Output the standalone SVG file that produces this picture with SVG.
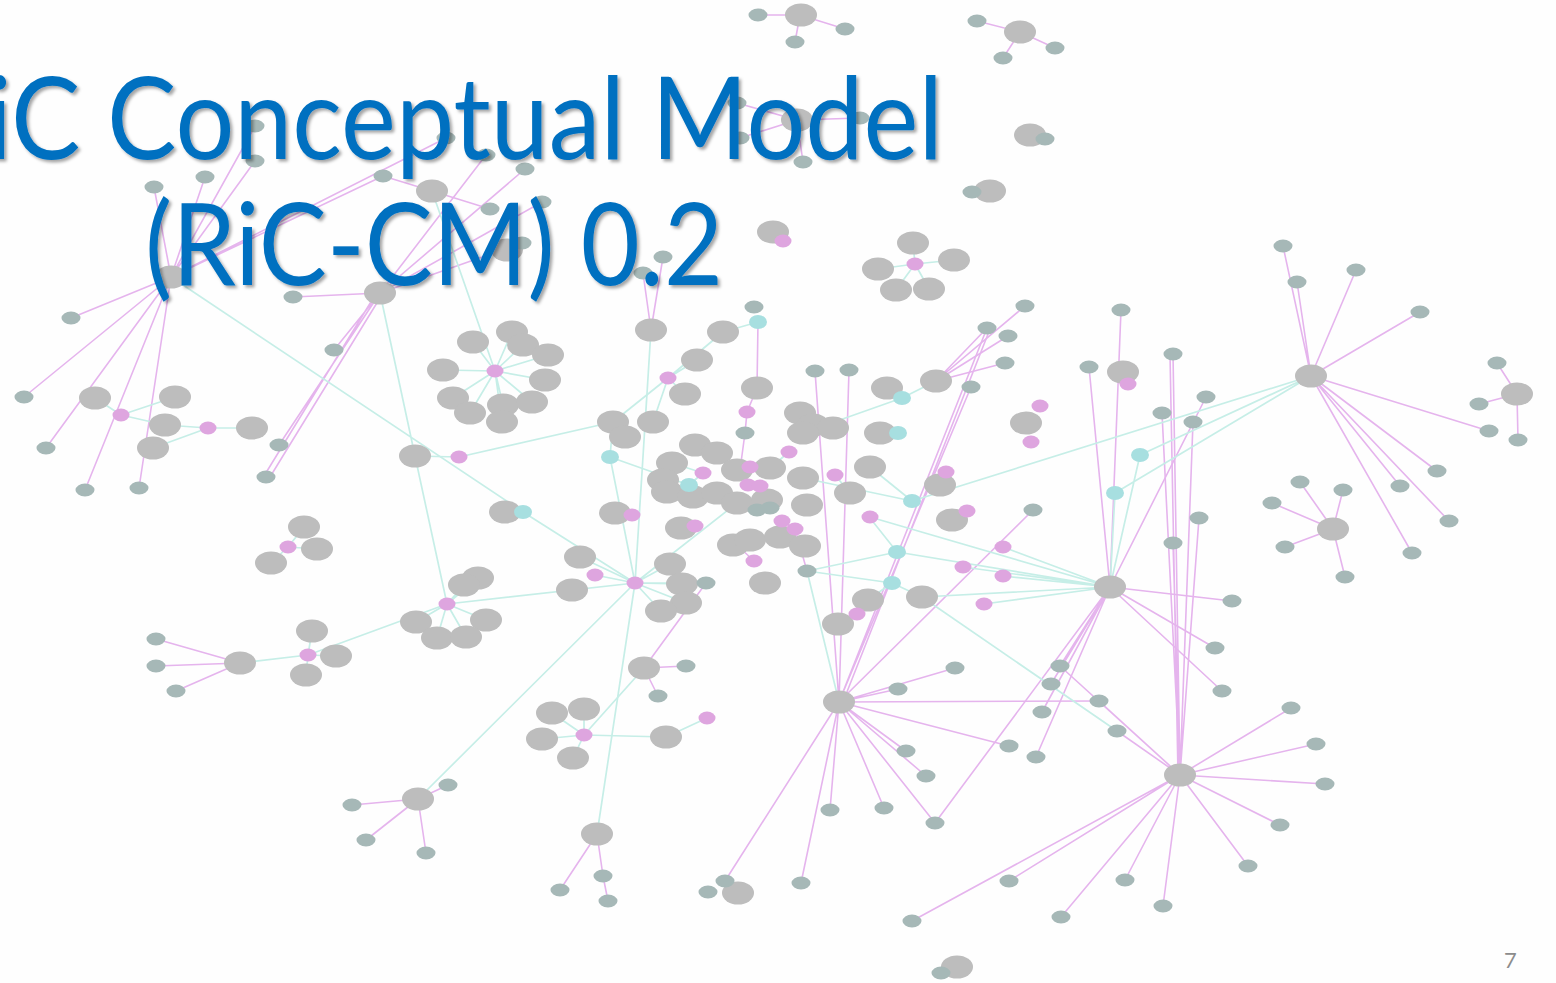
<svg xmlns="http://www.w3.org/2000/svg" xmlns:xlink="http://www.w3.org/1999/xlink" width="1556" height="983" viewBox="0 0 1556 983">
<style>
.pe{stroke:#e5b4ed;stroke-width:1.6;fill:none}
.ce{stroke:#c6eee7;stroke-width:1.7;fill:none}
.title{font-family:Lato,"Open Sans","Liberation Sans",sans-serif;font-size:114px;fill:#0070c0}
.pg{font-family:Lato,"Liberation Sans",sans-serif;font-size:22px;fill:#8c8c8c}
</style>
<defs>
<ellipse id="B" rx="16" ry="11.5" fill="#bdbdbd"/>
<ellipse id="S" rx="9.5" ry="6.5" fill="#a6b8b7"/>
<ellipse id="P" rx="8.5" ry="6.5" fill="#dea5df"/>
<ellipse id="C" rx="9" ry="7" fill="#a7dfe0"/>
<filter id="shadow" x="-5%" y="-20%" width="110%" height="140%">
<feDropShadow dx="2.5" dy="2.5" stdDeviation="1.5" flood-color="#000" flood-opacity="0.35"/>
</filter>
</defs>
<rect width="1556" height="983" fill="#fefefe"/>

<!-- connectors -->
<g id="edges">
<g class="pe">
<path d="M800 15L758 15M800 15L845 29M800 15L795 42"/>
<path d="M1020 32L977 21M1020 32L1055 48M1020 32L1003 58"/>
<path d="M797 120L737 103M797 120L740 138M797 120L860 118M797 120L803 162"/>
<path d="M171 277L154 187M171 277L205 177M171 277L255 126M171 277L255 161M171 277L71 318M171 277L24 397M171 277L46 448M171 277L85 490M171 277L139 488M171 277L383 176M171 277L446 138"/>
<path d="M380 293L293 297M380 293L334 350M380 293L279 445M383 293L270 477M377 292L264 476M380 293L486 155M380 293L525 169M380 293L542 202M380 293L522 243"/>
<path d="M432 191L490 209M432 191L383 176"/>
<path d="M651 330L643 273M651 330L663 257M758 322L757 388M757 388L747 412M747 412L745 433M745 433L740 470"/>
<path d="M936 381L1025 306M936 381L1008 336M936 381L1005 363M936 381L987 328"/>
<path d="M839 702L815 371M839 702L849 370M839 702L987 328M843 702L990 329M839 702L971 387M839 702L1033 510M839 702L955 668M839 702L898 689M839 702L1099 701M839 702L1009 746M839 702L906 751M839 702L926 776M839 702L830 810M839 702L884 808M839 702L935 823M839 702L801 883M839 702L725 881"/>
<path d="M1110 587L1121 310M1110 587L1089 367M1110 587L1206 397M1110 587L1232 601M1110 587L1215 648M1110 587L1222 691M1110 587L1060 666M1110 587L1051 684M1110 587L1042 712M1110 587L1036 757M1110 587L935 823"/>
<path d="M1180 775L1173 354M1178 775L1170 354M1180 775L1162 413M1180 775L1173 543M1180 775L1199 518M1180 775L1193 422M1180 775L1291 708M1180 775L1316 744M1180 775L1325 784M1180 775L1280 825M1180 775L1248 866M1180 775L1163 906M1180 775L1125 880M1180 775L1061 917M1180 775L1009 881M1180 775L912 921M1180 775L1117 731M1180 775L1099 701M1180 775L1060 666"/>
<path d="M1311 376L1283 246M1311 376L1297 282M1311 376L1356 270M1311 376L1420 312M1311 376L1489 431M1311 376L1437 471M1311 376L1400 486M1311 376L1449 521M1311 376L1412 553"/>
<path d="M1517 394L1497 363M1517 394L1479 404M1517 394L1518 440"/>
<path d="M1333 529L1300 482M1333 529L1343 490M1333 529L1272 503M1333 529L1285 547M1333 529L1345 577"/>
<path d="M240 663L156 639M240 663L156 666M240 663L176 691"/>
<path d="M418 799L448 785M418 799L352 805M418 799L366 840M418 799L426 853"/>
<path d="M597 834L603 876M597 834L560 890M603 876L608 901"/>
<path d="M644 668L686 666M644 668L658 696M644 668L706 583"/>
<path d="M782 521L795 529M795 529L807 571M754 561L737 545"/>
</g>
<g class="ce">
<path d="M171 277L523 512M523 512L635 583M380 293L415 456M415 456L447 604M432 191L495 371"/>
<path d="M495 371L473 342M495 371L512 332M495 371L523 345M495 371L548 355M495 371L443 370M495 371L545 380M495 371L453 398M495 371L470 413M495 371L503 405M495 371L532 402M495 371L502 422"/>
<path d="M121 415L95 398M121 415L165 425M121 415L175 397M208 428L165 425M208 428L252 428M208 428L153 448"/>
<path d="M459 457L415 456M459 457L613 422"/>
<path d="M668 378L697 360M668 378L685 394M668 378L613 422M668 378L653 422M668 378L723 332M758 322L723 332"/>
<path d="M651 330L635 583"/>
<path d="M635 583L580 557M635 583L595 575M635 583L670 564M635 583L682 584M635 583L706 583M635 583L686 603M635 583L661 611M635 583L572 590M635 583L447 604M635 583L418 799M635 583L597 834M635 583L737 503M635 583L610 457M610 457L613 422M610 457L689 485"/>
<path d="M584 735L552 713M584 735L584 709M584 735L542 739M584 735L573 758M584 735L666 737M584 735L644 668M666 737L707 718"/>
<path d="M288 547L304 527M288 547L317 549M288 547L271 563"/>
<path d="M308 655L312 631M308 655L336 656M308 655L306 675M308 655L240 663M308 655L447 604"/>
<path d="M447 604L478 578M447 604L464 585M447 604L416 622M447 604L486 620M447 604L437 638M447 604L466 637"/>
<path d="M1311 376L1140 455M1311 376L1115 493M1311 376L912 501M1115 493L1110 587M1140 455L1110 587"/>
<path d="M1110 587L1003 547M1110 587L1003 576M1110 587L963 567M1110 587L897 552M1110 587L870 517M1110 587L984 604M1110 587L922 597"/>
<path d="M912 501L870 467M912 501L803 478M902 398L936 381M902 398L887 388M902 398L803 433M898 433L880 433"/>
<path d="M892 583L868 600M892 583L922 597M892 583L807 571M897 552L870 518M897 552L807 571M839 702L807 571M857 614L869 600M922 597L1117 731"/>
<path d="M737 503L757 510M737 503L770 508M789 452L770 468M835 475L850 493M703 473L689 485M703 473L672 463"/>
<path d="M915 264L913 243M915 264L954 260M915 264L878 269M915 264L896 290M915 264L929 289"/>
</g>
</g>

<!-- nodes -->
<g id="nodes">
<g id="n1"><use href="#B" x="801" y="15"/></g>
<g id="n2"><use href="#B" x="1020" y="32"/></g>
<g id="n3"><use href="#B" x="797" y="120"/></g>
<g id="n4"><use href="#B" x="1030" y="135"/></g>
<g id="n5"><use href="#B" x="990" y="191"/></g>
<g id="n6"><use href="#B" x="773" y="232"/></g>
<g id="n7"><use href="#B" x="913" y="243"/></g>
<g id="n8"><use href="#B" x="954" y="260"/></g>
<g id="n9"><use href="#B" x="878" y="269"/></g>
<g id="n10"><use href="#B" x="896" y="290"/></g>
<g id="n11"><use href="#B" x="929" y="289"/></g>
<g id="n12"><use href="#B" x="171" y="277"/></g>
<g id="n13"><use href="#B" x="380" y="293"/></g>
<g id="n14"><use href="#B" x="432" y="191"/></g>
<g id="n15"><use href="#B" x="507" y="250"/></g>
<g id="n16"><use href="#B" x="95" y="398"/></g>
<g id="n17"><use href="#B" x="175" y="397"/></g>
<g id="n18"><use href="#B" x="165" y="425"/></g>
<g id="n19"><use href="#B" x="252" y="428"/></g>
<g id="n20"><use href="#B" x="153" y="448"/></g>
<g id="n21"><use href="#B" x="473" y="342"/></g>
<g id="n22"><use href="#B" x="512" y="332"/></g>
<g id="n23"><use href="#B" x="523" y="345"/></g>
<g id="n24"><use href="#B" x="548" y="355"/></g>
<g id="n25"><use href="#B" x="443" y="370"/></g>
<g id="n26"><use href="#B" x="545" y="380"/></g>
<g id="n27"><use href="#B" x="453" y="398"/></g>
<g id="n28"><use href="#B" x="470" y="413"/></g>
<g id="n29"><use href="#B" x="503" y="405"/></g>
<g id="n30"><use href="#B" x="532" y="402"/></g>
<g id="n31"><use href="#B" x="502" y="422"/></g>
<g id="n32"><use href="#B" x="415" y="456"/></g>
<g id="n33"><use href="#B" x="651" y="330"/></g>
<g id="n34"><use href="#B" x="723" y="332"/></g>
<g id="n35"><use href="#B" x="697" y="360"/></g>
<g id="n36"><use href="#B" x="685" y="394"/></g>
<g id="n37"><use href="#B" x="757" y="388"/></g>
<g id="n38"><use href="#B" x="613" y="422"/></g>
<g id="n39"><use href="#B" x="625" y="437"/></g>
<g id="n40"><use href="#B" x="653" y="422"/></g>
<g id="n41"><use href="#B" x="695" y="445"/></g>
<g id="n42"><use href="#B" x="717" y="453"/></g>
<g id="n43"><use href="#B" x="887" y="388"/></g>
<g id="n44"><use href="#B" x="936" y="381"/></g>
<g id="n45"><use href="#B" x="880" y="433"/></g>
<g id="n46"><use href="#B" x="800" y="413"/></g>
<g id="n47"><use href="#B" x="813" y="425"/></g>
<g id="n48"><use href="#B" x="833" y="428"/></g>
<g id="n49"><use href="#B" x="803" y="433"/></g>
<g id="n50"><use href="#B" x="672" y="463"/></g>
<g id="n51"><use href="#B" x="663" y="480"/></g>
<g id="n52"><use href="#B" x="667" y="492"/></g>
<g id="n53"><use href="#B" x="693" y="497"/></g>
<g id="n54"><use href="#B" x="717" y="493"/></g>
<g id="n55"><use href="#B" x="737" y="470"/></g>
<g id="n56"><use href="#B" x="770" y="468"/></g>
<g id="n57"><use href="#B" x="737" y="503"/></g>
<g id="n58"><use href="#B" x="767" y="500"/></g>
<g id="n59"><use href="#B" x="803" y="478"/></g>
<g id="n60"><use href="#B" x="850" y="493"/></g>
<g id="n61"><use href="#B" x="807" y="505"/></g>
<g id="n62"><use href="#B" x="870" y="467"/></g>
<g id="n63"><use href="#B" x="940" y="485"/></g>
<g id="n64"><use href="#B" x="952" y="520"/></g>
<g id="n65"><use href="#B" x="615" y="513"/></g>
<g id="n66"><use href="#B" x="505" y="512"/></g>
<g id="n67"><use href="#B" x="681" y="528"/></g>
<g id="n68"><use href="#B" x="733" y="545"/></g>
<g id="n69"><use href="#B" x="750" y="540"/></g>
<g id="n70"><use href="#B" x="780" y="537"/></g>
<g id="n71"><use href="#B" x="805" y="546"/></g>
<g id="n72"><use href="#B" x="580" y="557"/></g>
<g id="n73"><use href="#B" x="572" y="590"/></g>
<g id="n74"><use href="#B" x="670" y="564"/></g>
<g id="n75"><use href="#B" x="682" y="584"/></g>
<g id="n76"><use href="#B" x="686" y="603"/></g>
<g id="n77"><use href="#B" x="661" y="611"/></g>
<g id="n78"><use href="#B" x="765" y="583"/></g>
<g id="n79"><use href="#B" x="868" y="600"/></g>
<g id="n80"><use href="#B" x="922" y="597"/></g>
<g id="n81"><use href="#B" x="838" y="624"/></g>
<g id="n82"><use href="#B" x="1026" y="423"/></g>
<g id="n83"><use href="#B" x="1123" y="372"/></g>
<g id="n84"><use href="#B" x="839" y="702"/></g>
<g id="n85"><use href="#B" x="1110" y="587"/></g>
<g id="n86"><use href="#B" x="1180" y="775"/></g>
<g id="n87"><use href="#B" x="1311" y="376"/></g>
<g id="n88"><use href="#B" x="1517" y="394"/></g>
<g id="n89"><use href="#B" x="1333" y="529"/></g>
<g id="n90"><use href="#B" x="304" y="527"/></g>
<g id="n91"><use href="#B" x="317" y="549"/></g>
<g id="n92"><use href="#B" x="271" y="563"/></g>
<g id="n93"><use href="#B" x="478" y="578"/></g>
<g id="n94"><use href="#B" x="464" y="585"/></g>
<g id="n95"><use href="#B" x="416" y="622"/></g>
<g id="n96"><use href="#B" x="486" y="620"/></g>
<g id="n97"><use href="#B" x="437" y="638"/></g>
<g id="n98"><use href="#B" x="466" y="637"/></g>
<g id="n99"><use href="#B" x="312" y="631"/></g>
<g id="n100"><use href="#B" x="336" y="656"/></g>
<g id="n101"><use href="#B" x="306" y="675"/></g>
<g id="n102"><use href="#B" x="240" y="663"/></g>
<g id="n103"><use href="#B" x="644" y="668"/></g>
<g id="n104"><use href="#B" x="552" y="713"/></g>
<g id="n105"><use href="#B" x="584" y="709"/></g>
<g id="n106"><use href="#B" x="542" y="739"/></g>
<g id="n107"><use href="#B" x="573" y="758"/></g>
<g id="n108"><use href="#B" x="666" y="737"/></g>
<g id="n109"><use href="#B" x="418" y="799"/></g>
<g id="n110"><use href="#B" x="597" y="834"/></g>
<g id="n111"><use href="#B" x="738" y="893"/></g>
<g id="n112"><use href="#B" x="957" y="967"/></g>

<g id="n113"><use href="#S" x="758" y="15"/></g>
<g id="n114"><use href="#S" x="845" y="29"/></g>
<g id="n115"><use href="#S" x="795" y="42"/></g>
<g id="n116"><use href="#S" x="977" y="21"/></g>
<g id="n117"><use href="#S" x="1055" y="48"/></g>
<g id="n118"><use href="#S" x="1003" y="58"/></g>
<g id="n119"><use href="#S" x="737" y="103"/></g>
<g id="n120"><use href="#S" x="740" y="138"/></g>
<g id="n121"><use href="#S" x="860" y="118"/></g>
<g id="n122"><use href="#S" x="803" y="162"/></g>
<g id="n123"><use href="#S" x="1045" y="139"/></g>
<g id="n124"><use href="#S" x="972" y="192"/></g>
<g id="n125"><use href="#S" x="154" y="187"/></g>
<g id="n126"><use href="#S" x="205" y="177"/></g>
<g id="n127"><use href="#S" x="255" y="126"/></g>
<g id="n128"><use href="#S" x="255" y="161"/></g>
<g id="n129"><use href="#S" x="383" y="176"/></g>
<g id="n130"><use href="#S" x="446" y="138"/></g>
<g id="n131"><use href="#S" x="486" y="155"/></g>
<g id="n132"><use href="#S" x="525" y="169"/></g>
<g id="n133"><use href="#S" x="542" y="202"/></g>
<g id="n134"><use href="#S" x="490" y="209"/></g>
<g id="n135"><use href="#S" x="522" y="243"/></g>
<g id="n136"><use href="#S" x="293" y="297"/></g>
<g id="n137"><use href="#S" x="334" y="350"/></g>
<g id="n138"><use href="#S" x="279" y="445"/></g>
<g id="n139"><use href="#S" x="266" y="477"/></g>
<g id="n140"><use href="#S" x="71" y="318"/></g>
<g id="n141"><use href="#S" x="24" y="397"/></g>
<g id="n142"><use href="#S" x="46" y="448"/></g>
<g id="n143"><use href="#S" x="85" y="490"/></g>
<g id="n144"><use href="#S" x="139" y="488"/></g>
<g id="n145"><use href="#S" x="643" y="273"/></g>
<g id="n146"><use href="#S" x="663" y="257"/></g>
<g id="n147"><use href="#S" x="754" y="307"/></g>
<g id="n148"><use href="#S" x="745" y="433"/></g>
<g id="n149"><use href="#S" x="815" y="371"/></g>
<g id="n150"><use href="#S" x="849" y="370"/></g>
<g id="n151"><use href="#S" x="757" y="510"/></g>
<g id="n152"><use href="#S" x="770" y="508"/></g>
<g id="n153"><use href="#S" x="807" y="571"/></g>
<g id="n154"><use href="#S" x="706" y="583"/></g>
<g id="n155"><use href="#S" x="1025" y="306"/></g>
<g id="n156"><use href="#S" x="987" y="328"/></g>
<g id="n157"><use href="#S" x="1008" y="336"/></g>
<g id="n158"><use href="#S" x="1005" y="363"/></g>
<g id="n159"><use href="#S" x="971" y="387"/></g>
<g id="n160"><use href="#S" x="1033" y="510"/></g>
<g id="n161"><use href="#S" x="1121" y="310"/></g>
<g id="n162"><use href="#S" x="1089" y="367"/></g>
<g id="n163"><use href="#S" x="1173" y="354"/></g>
<g id="n164"><use href="#S" x="1206" y="397"/></g>
<g id="n165"><use href="#S" x="1162" y="413"/></g>
<g id="n166"><use href="#S" x="1193" y="422"/></g>
<g id="n167"><use href="#S" x="1199" y="518"/></g>
<g id="n168"><use href="#S" x="1173" y="543"/></g>
<g id="n169"><use href="#S" x="1283" y="246"/></g>
<g id="n170"><use href="#S" x="1297" y="282"/></g>
<g id="n171"><use href="#S" x="1356" y="270"/></g>
<g id="n172"><use href="#S" x="1420" y="312"/></g>
<g id="n173"><use href="#S" x="1497" y="363"/></g>
<g id="n174"><use href="#S" x="1479" y="404"/></g>
<g id="n175"><use href="#S" x="1518" y="440"/></g>
<g id="n176"><use href="#S" x="1489" y="431"/></g>
<g id="n177"><use href="#S" x="1437" y="471"/></g>
<g id="n178"><use href="#S" x="1400" y="486"/></g>
<g id="n179"><use href="#S" x="1449" y="521"/></g>
<g id="n180"><use href="#S" x="1412" y="553"/></g>
<g id="n181"><use href="#S" x="1300" y="482"/></g>
<g id="n182"><use href="#S" x="1343" y="490"/></g>
<g id="n183"><use href="#S" x="1272" y="503"/></g>
<g id="n184"><use href="#S" x="1285" y="547"/></g>
<g id="n185"><use href="#S" x="1345" y="577"/></g>
<g id="n186"><use href="#S" x="1232" y="601"/></g>
<g id="n187"><use href="#S" x="1215" y="648"/></g>
<g id="n188"><use href="#S" x="1222" y="691"/></g>
<g id="n189"><use href="#S" x="955" y="668"/></g>
<g id="n190"><use href="#S" x="898" y="689"/></g>
<g id="n191"><use href="#S" x="1099" y="701"/></g>
<g id="n192"><use href="#S" x="1009" y="746"/></g>
<g id="n193"><use href="#S" x="906" y="751"/></g>
<g id="n194"><use href="#S" x="926" y="776"/></g>
<g id="n195"><use href="#S" x="830" y="810"/></g>
<g id="n196"><use href="#S" x="884" y="808"/></g>
<g id="n197"><use href="#S" x="935" y="823"/></g>
<g id="n198"><use href="#S" x="801" y="883"/></g>
<g id="n199"><use href="#S" x="1060" y="666"/></g>
<g id="n200"><use href="#S" x="1051" y="684"/></g>
<g id="n201"><use href="#S" x="1042" y="712"/></g>
<g id="n202"><use href="#S" x="1036" y="757"/></g>
<g id="n203"><use href="#S" x="1117" y="731"/></g>
<g id="n204"><use href="#S" x="1291" y="708"/></g>
<g id="n205"><use href="#S" x="1316" y="744"/></g>
<g id="n206"><use href="#S" x="1325" y="784"/></g>
<g id="n207"><use href="#S" x="1280" y="825"/></g>
<g id="n208"><use href="#S" x="1248" y="866"/></g>
<g id="n209"><use href="#S" x="1163" y="906"/></g>
<g id="n210"><use href="#S" x="1125" y="880"/></g>
<g id="n211"><use href="#S" x="1061" y="917"/></g>
<g id="n212"><use href="#S" x="1009" y="881"/></g>
<g id="n213"><use href="#S" x="912" y="921"/></g>
<g id="n214"><use href="#S" x="941" y="973"/></g>
<g id="n215"><use href="#S" x="156" y="639"/></g>
<g id="n216"><use href="#S" x="156" y="666"/></g>
<g id="n217"><use href="#S" x="176" y="691"/></g>
<g id="n218"><use href="#S" x="686" y="666"/></g>
<g id="n219"><use href="#S" x="658" y="696"/></g>
<g id="n220"><use href="#S" x="448" y="785"/></g>
<g id="n221"><use href="#S" x="352" y="805"/></g>
<g id="n222"><use href="#S" x="366" y="840"/></g>
<g id="n223"><use href="#S" x="426" y="853"/></g>
<g id="n224"><use href="#S" x="603" y="876"/></g>
<g id="n225"><use href="#S" x="560" y="890"/></g>
<g id="n226"><use href="#S" x="608" y="901"/></g>
<g id="n227"><use href="#S" x="725" y="881"/></g>
<g id="n228"><use href="#S" x="708" y="892"/></g>

<g id="n229"><use href="#P" x="915" y="264"/></g>
<g id="n230"><use href="#P" x="783" y="241"/></g>
<g id="n231"><use href="#P" x="121" y="415"/></g>
<g id="n232"><use href="#P" x="208" y="428"/></g>
<g id="n233"><use href="#P" x="495" y="371"/></g>
<g id="n234"><use href="#P" x="459" y="457"/></g>
<g id="n235"><use href="#P" x="668" y="378"/></g>
<g id="n236"><use href="#P" x="747" y="412"/></g>
<g id="n237"><use href="#P" x="789" y="452"/></g>
<g id="n238"><use href="#P" x="835" y="475"/></g>
<g id="n239"><use href="#P" x="703" y="473"/></g>
<g id="n240"><use href="#P" x="750" y="467"/></g>
<g id="n241"><use href="#P" x="748" y="485"/></g>
<g id="n242"><use href="#P" x="760" y="486"/></g>
<g id="n243"><use href="#P" x="632" y="515"/></g>
<g id="n244"><use href="#P" x="695" y="526"/></g>
<g id="n245"><use href="#P" x="782" y="521"/></g>
<g id="n246"><use href="#P" x="795" y="529"/></g>
<g id="n247"><use href="#P" x="754" y="561"/></g>
<g id="n248"><use href="#P" x="595" y="575"/></g>
<g id="n249"><use href="#P" x="635" y="583"/></g>
<g id="n250"><use href="#P" x="870" y="517"/></g>
<g id="n251"><use href="#P" x="946" y="472"/></g>
<g id="n252"><use href="#P" x="967" y="511"/></g>
<g id="n253"><use href="#P" x="1003" y="547"/></g>
<g id="n254"><use href="#P" x="963" y="567"/></g>
<g id="n255"><use href="#P" x="1003" y="576"/></g>
<g id="n256"><use href="#P" x="984" y="604"/></g>
<g id="n257"><use href="#P" x="857" y="614"/></g>
<g id="n258"><use href="#P" x="1040" y="406"/></g>
<g id="n259"><use href="#P" x="1031" y="442"/></g>
<g id="n260"><use href="#P" x="1128" y="384"/></g>
<g id="n261"><use href="#P" x="288" y="547"/></g>
<g id="n262"><use href="#P" x="447" y="604"/></g>
<g id="n263"><use href="#P" x="308" y="655"/></g>
<g id="n264"><use href="#P" x="584" y="735"/></g>
<g id="n265"><use href="#P" x="707" y="718"/></g>

<g id="n266"><use href="#C" x="758" y="322"/></g>
<g id="n267"><use href="#C" x="902" y="398"/></g>
<g id="n268"><use href="#C" x="898" y="433"/></g>
<g id="n269"><use href="#C" x="610" y="457"/></g>
<g id="n270"><use href="#C" x="689" y="485"/></g>
<g id="n271"><use href="#C" x="523" y="512"/></g>
<g id="n272"><use href="#C" x="912" y="501"/></g>
<g id="n273"><use href="#C" x="897" y="552"/></g>
<g id="n274"><use href="#C" x="892" y="583"/></g>
<g id="n275"><use href="#C" x="1140" y="455"/></g>
<g id="n276"><use href="#C" x="1115" y="493"/></g>
</g>

<!-- heading and page number -->
<g id="heading" filter="url(#shadow)">
<text class="title" x="-13" y="159" textLength="956" lengthAdjust="spacingAndGlyphs">iC Conceptual Model</text>
<text class="title" x="145" y="285" textLength="578" lengthAdjust="spacingAndGlyphs">(RiC-CM) 0.2</text>
</g>
<text class="pg" x="1504" y="968">7</text>
</svg>
